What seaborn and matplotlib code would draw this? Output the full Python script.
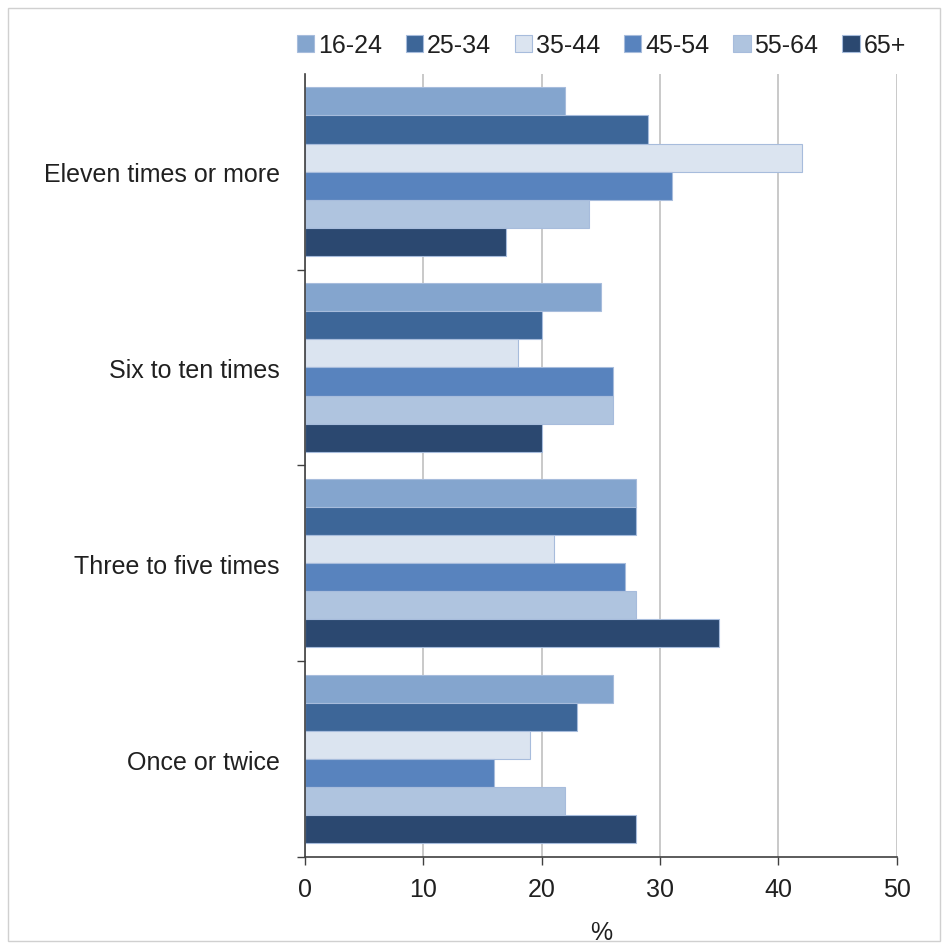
import numpy as np
import pandas as pd
import matplotlib
matplotlib.use("Agg")
import matplotlib.pyplot as plt
import seaborn as sns

# data
categories = ["Eleven times or more", "Six to ten times", "Three to five times", "Once or twice"]
age_groups = ["16-24", "25-34", "35-44", "45-54", "55-64", "65+"]
values = {
    "16-24": [22, 25, 28, 26],
    "25-34": [29, 20, 28, 23],
    "35-44": [42, 18, 21, 19],
    "45-54": [31, 26, 27, 16],
    "55-64": [24, 26, 28, 22],
    "65+":   [17, 20, 35, 28],
}
colors = ["#84A5CE", "#3D6698", "#DBE4F0", "#5883BE", "#AFC4DF", "#2B4870"]

rows = []
for g in age_groups:
    for c, v in zip(categories, values[g]):
        rows.append({"freq": c, "age": g, "pct": v})
df = pd.DataFrame(rows)

sns.set_style("white")
plt.rcParams["font.family"] = ["Liberation Sans", "DejaVu Sans"]
fs = 18

fig = plt.figure(figsize=(9.44, 9.45), dpi=100)
ax = fig.add_axes([0.323, 0.092, 0.627, 0.829])

sns.barplot(data=df, x="pct", y="freq", hue="age", order=categories,
            hue_order=age_groups, palette=colors, saturation=1, orient="h", width=0.86,
            edgecolor="#A7BCDC", linewidth=0.8, ax=ax, legend=False)

ax.set_xlim(0, 50)
ax.set_ylim(3.5, -0.5)
ax.set_xticks(np.arange(0, 51, 10))
ax.xaxis.grid(True, color="#C0C0C0", linewidth=1.2)
ax.set_axisbelow(True)

# category labels at centres, tick marks at boundaries
ax.set_yticks([0.5, 1.5, 2.5, 3.5])
ax.set_yticklabels([])
ax.set_yticks(range(len(categories)), minor=True)
ax.set_yticklabels(categories, minor=True, fontsize=fs, color="#202020")
ax.tick_params(axis="y", which="minor", length=0, pad=18)
ax.tick_params(axis="y", which="major", length=6, width=1, color="#404040", direction="out", left=True)
ax.tick_params(axis="x", length=6, width=1, color="#404040", direction="out", bottom=True,
               labelsize=fs, labelcolor="#202020", pad=8)

for s in ["top", "right"]:
    ax.spines[s].set_visible(False)
for s in ["left", "bottom"]:
    ax.spines[s].set_color("#404040")
    ax.spines[s].set_linewidth(1.2)

ax.set_ylabel("")
ax.set_xlabel("%", fontsize=fs, labelpad=14, color="#202020")

handles = [plt.Rectangle((0, 0), 1, 1, facecolor=c, edgecolor="#A7BCDC", linewidth=0.8) for c in colors]
fig.legend(handles, age_groups, loc="center right", bbox_to_anchor=(0.97, 0.951),
           ncol=6, frameon=False, fontsize=fs, handlelength=0.7, handleheight=0.7,
           handletextpad=0.15, columnspacing=0.95, borderaxespad=0, labelcolor="#202020")

# outer border
fig.patches.append(plt.Rectangle((0.009, 0.003), 0.987, 0.988, transform=fig.transFigure,
                                 fill=False, edgecolor="#D0D0D0", linewidth=1))

fig.savefig("out.png", dpi=100)
